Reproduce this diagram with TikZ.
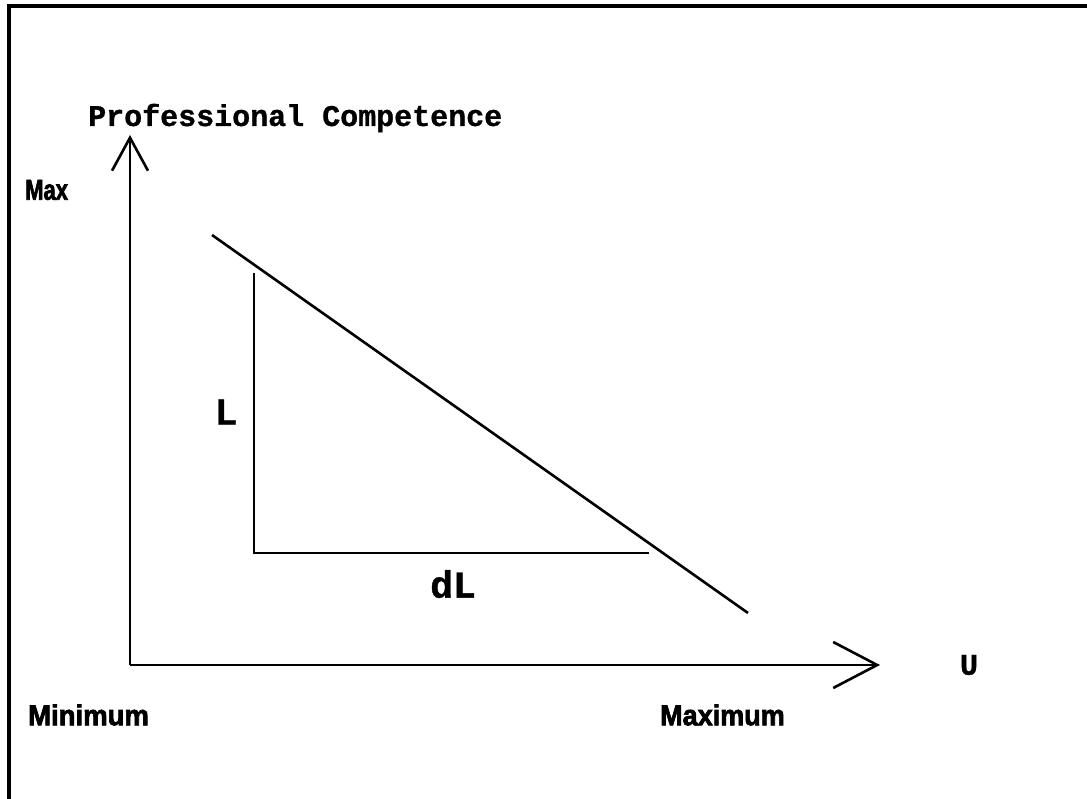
\documentclass[tikz,border=0pt]{standalone}
\usepackage{fontspec}
\usetikzlibrary{arrows.meta}
\newfontfamily\couriermono[FakeBold=1]{Liberation Mono}
\newfontfamily\heavysans[FakeBold=2.5]{Liberation Sans}
\tikzset{
  ink/.style={line width=2.6pt, black},
  frame/.style={line width=4pt, black},
  monolabel/.style={inner sep=0pt, font=\couriermono\bfseries\fontsize{30}{34}\selectfont},
  biglabel/.style={inner sep=0pt, font=\couriermono\bfseries\fontsize{38}{42}\selectfont},
  sanslabel/.style={inner sep=0pt, font=\heavysans\bfseries\fontsize{25}{28}\selectfont},
}
\begin{document}
\begin{tikzpicture}[x=1pt, y=-1pt]
\useasboundingbox (0,0) rectangle (1087,799);
\fill[white] (0,0) rectangle (1087,799);
% frame
\draw[frame] (9,799) -- (9,6) -- (1087,6);
% coordinates
\coordinate (origin) at (130,665);
\coordinate (ytop) at (130,135);
\coordinate (xend) at (880,665);
\coordinate (dstart) at (212,235);
\coordinate (dend) at (748,613);
\coordinate (ttop) at (254,273);
\coordinate (tcorner) at (254,553);
\coordinate (tright) at (649,553);
% axes
\draw[ink, -{Straight Barb[length=33pt, width=36pt, line width=2.6pt]}] (origin) -- (ytop);
\draw[ink, -{Straight Barb[length=44pt, width=46pt, line width=2.6pt]}] (origin) -- (xend);
% diagonal line
\draw[ink] (dstart) -- (dend);
% triangle legs
\draw[ink] (ttop) -- (tcorner) -- (tright);
% labels
\node[monolabel, anchor=west] (title) at (88,118) {Professional Competence};
\node[sanslabel, anchor=west] (max) at (25,190) {\scalebox{0.88}[1.15]{Max}};
\node[biglabel] (L) at (226,412) {L};
\node[biglabel] (dL) at (453,584) {dL};
\node[monolabel] (U) at (969,665) {U};
\node[sanslabel, anchor=west] (minimum) at (28,715) {\scalebox{1.1}[1.15]{Minimum}};
\node[sanslabel, anchor=west] (maximum) at (660,715) {\scalebox{1.08}[1.15]{Maximum}};
\end{tikzpicture}
\end{document}
